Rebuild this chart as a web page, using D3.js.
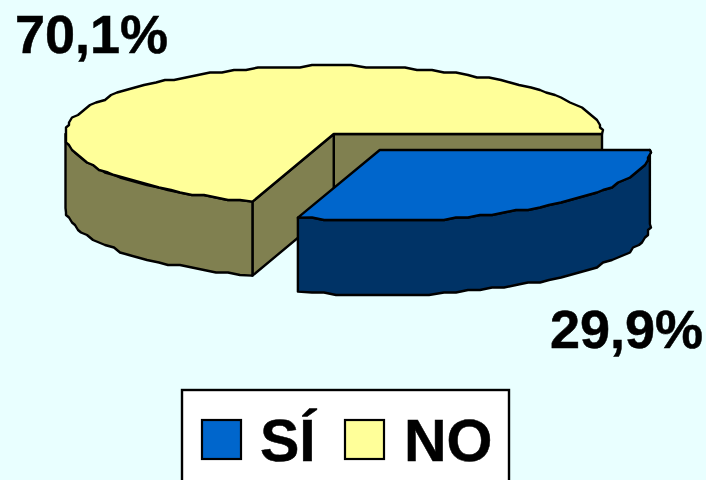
<!DOCTYPE html>
<html><head><meta charset="utf-8">
<script src="https://cdn.jsdelivr.net/npm/d3@7/dist/d3.min.js"></script>
<style>html,body{margin:0;padding:0;background:#E9FFFF;overflow:hidden}svg{display:block}text{font-family:"Liberation Sans",Arial,sans-serif;font-weight:700;fill:#000;stroke:#000;stroke-width:.5}</style>
</head><body><svg id="c" width="706" height="480"></svg>
<script>
const categories = ["SÍ", "NO"];
const values = [29.9, 70.1];
const valueLabels = ["29,9%", "70,1%"];
const topColors = ["#0066CC", "#FFFF99"];
const sideColors = ["#003366", "#808050"];

const svg = d3.select("#c");
const cfg = {depth:74, explode:[[46,16],[0,0]], widen:[1.007,1]};
const pie = d3.pie().sort(null).value(d=>d);
const arcs = pie(values);
const sx = d3.scaleLinear().domain([-1,1]).range([65.5,602]);
// the far half of the disc is foreshortened by the perspective view
const sy = d3.scaleLinear().domain([-1,0,1]).range([66,134,205]);
const line = d3.line().curve(d3.curveLinear);
// angle measured clockwise from east (the chart starts its first slice there)
const pt = (a,i,dy=0)=>{
  const [ox,oy]=cfg.explode[i];
  return [sx(Math.cos(a)*cfg.widen[i])+ox, sy(Math.sin(a))+oy+dy];
};
const centre=(i,dy=0)=>[sx(0)+cfg.explode[i][0], sy(0)+cfg.explode[i][1]+dy];
const rim=(a0,a1,i,dy=0)=>{
  const n=Math.max(2,Math.round(Math.abs(a1-a0)/0.05));
  return d3.range(n+1).map(k=>{
    const a=a0+(a1-a0)*k/n;
    const p=pt(a,i,dy);
    // slight stair stepping of the rim, except at the slice ends
    return (k===0||k===n)?p:[Math.round(p[0]/3)*3, Math.round(p[1]/2.5)*2.5];
  });
};
const draw=(pts,fill)=>svg.append("path").attr("d",line(pts)+"Z").attr("fill",fill)
  .attr("stroke","#000").attr("stroke-width",2.4).attr("stroke-linejoin","round");

function slice(i){
  const a0=arcs[i].startAngle, a1=arcs[i].endAngle; // 0..2pi
  if(i===1){ // NO: inner cut faces, outer wall on the near side
    draw([centre(i),pt(2*Math.PI,i),pt(2*Math.PI,i,cfg.depth),centre(i,cfg.depth)],sideColors[i]);
    draw([centre(i),pt(a0,i),pt(a0,i,cfg.depth),centre(i,cfg.depth)],sideColors[i]);
    draw(rim(a0,Math.PI,i).concat(rim(Math.PI,a0,i,cfg.depth)),sideColors[i]);
    draw([centre(i)].concat(rim(a0,a1,i)),topColors[i]);
  } else {   // SÍ: outer wall then top
    draw(rim(a0,a1,i).concat(rim(a1,a0,i,cfg.depth)),sideColors[i]);
    draw([centre(i)].concat(rim(a0,a1,i)),topColors[i]);
  }
}
slice(1); slice(0);

// value labels
svg.selectAll("text.v").data([
  {t:valueLabels[1],x:15,y:53},
  {t:valueLabels[0],x:550,y:348}
]).join("text").attr("class","v").attr("x",d=>d.x).attr("y",d=>d.y)
  .attr("font-size",54).text(d=>d.t);

// legend
const lg=svg.append("g");
lg.append("rect").attr("x",182).attr("y",390).attr("width",327).attr("height",100)
  .attr("fill","#fff").attr("stroke","#000").attr("stroke-width",2.4);
const legendX=d3.scaleOrdinal().domain(categories).range([202,345]);
categories.forEach((c,i)=>{
  lg.append("rect").attr("x",legendX(c)).attr("y",420).attr("width",39).attr("height",39)
    .attr("fill",topColors[i]).attr("stroke","#000").attr("stroke-width",2.2);
  lg.append("text").attr("x",legendX(c)+(i?59:58)).attr("y",461).attr("font-size",59).text(c);
});
</script></body></html>
